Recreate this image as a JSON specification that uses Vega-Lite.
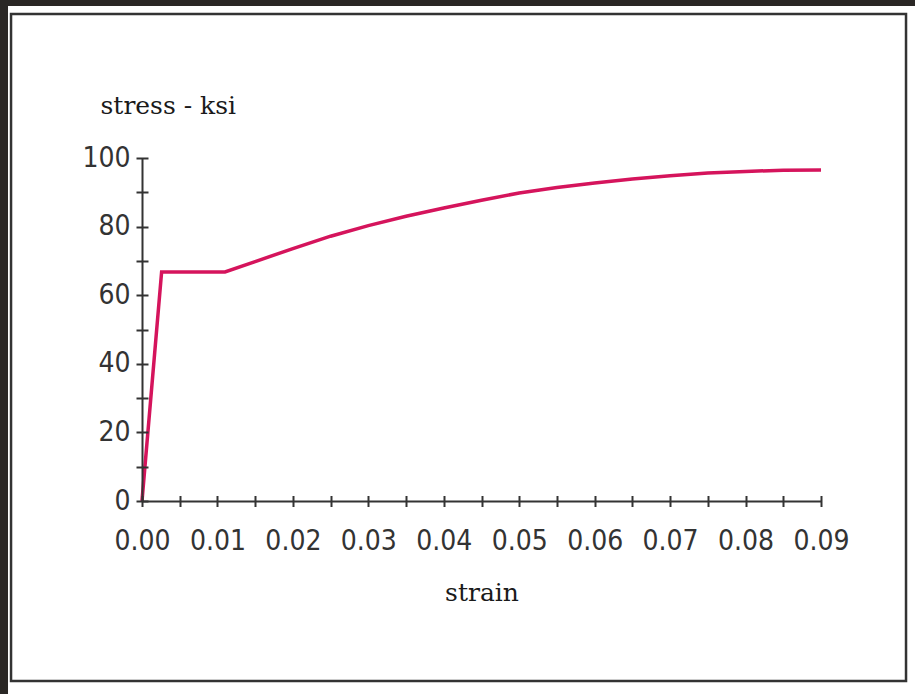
{
  "$schema": "https://vega.github.io/schema/vega-lite/v6.json",
  "autosize": {"type": "none"},
  "width": 679,
  "height": 343,
  "padding": {"left": 142, "top": 158, "right": 94, "bottom": 193},
  "background": "#2a2725",
  "config": {"view": {"stroke": null}},
  "resolve": {"axis": {"x": "independent", "y": "independent"}},
  "layer": [
    {
      "data": {"values": [{"x0": -0.01776, "x1": 0.11, "y0": -60, "y1": 144.3}]},
      "mark": {"type": "rect", "fill": "#ffffff"},
      "encoding": {
        "x": {"field": "x0", "type": "quantitative", "scale": {"domain": [0, 0.09], "nice": false, "zero": false}, "axis": null},
        "x2": {"field": "x1"},
        "y": {"field": "y0", "type": "quantitative", "scale": {"domain": [0, 100], "nice": false, "zero": false}, "axis": null},
        "y2": {"field": "y1"}
      }
    },
    {
      "data": {"values": [{"x0": -0.01736, "x1": 0.10127, "y0": -52.5, "y1": 142.0}]},
      "mark": {"type": "rect", "fill": null, "stroke": "#333333", "strokeWidth": 2.5},
      "encoding": {
        "x": {"field": "x0", "type": "quantitative", "scale": {"domain": [0, 0.09], "nice": false, "zero": false},
          "axis": {"orient": "bottom", "zindex": 2, "domain": false, "labels": false, "grid": false, "title": null,
            "ticks": true, "values": [0, 0.005, 0.01, 0.015, 0.02, 0.025, 0.03, 0.035, 0.04, 0.045, 0.05, 0.055, 0.06, 0.065, 0.07, 0.075, 0.08, 0.085, 0.09],
            "tickSize": 11, "offset": -5.5, "tickWidth": 2, "tickColor": "#333333"}},
        "x2": {"field": "x1"},
        "y": {"field": "y0", "type": "quantitative", "scale": {"domain": [0, 100], "nice": false, "zero": false},
          "axis": {"orient": "left", "zindex": 2, "domain": false, "labels": false, "grid": false, "title": null,
            "ticks": true, "values": [0, 10, 20, 30, 40, 50, 60, 70, 80, 90, 100],
            "tickSize": 12, "offset": -6, "tickWidth": 2, "tickColor": "#333333"}},
        "y2": {"field": "y1"}
      }
    },
    {
      "data": {"values": [
        {"strain": 0, "stress": 0},
        {"strain": 0.0026, "stress": 66.8},
        {"strain": 0.011, "stress": 66.8},
        {"strain": 0.015, "stress": 69.8},
        {"strain": 0.02, "stress": 73.6},
        {"strain": 0.025, "stress": 77.2},
        {"strain": 0.03, "stress": 80.3},
        {"strain": 0.035, "stress": 83.0},
        {"strain": 0.04, "stress": 85.4},
        {"strain": 0.045, "stress": 87.7},
        {"strain": 0.05, "stress": 89.8},
        {"strain": 0.055, "stress": 91.4},
        {"strain": 0.06, "stress": 92.7},
        {"strain": 0.065, "stress": 93.9},
        {"strain": 0.07, "stress": 94.8},
        {"strain": 0.075, "stress": 95.6},
        {"strain": 0.08, "stress": 96.1},
        {"strain": 0.085, "stress": 96.4},
        {"strain": 0.09, "stress": 96.5}
      ]},
      "mark": {"type": "line", "color": "#d5145c", "strokeWidth": 3.5},
      "encoding": {
        "x": {"field": "strain", "type": "quantitative", "scale": {"domain": [0, 0.09], "nice": false, "zero": false},
          "axis": {"orient": "bottom", "zindex": 2, "grid": false, "domain": true, "domainColor": "#333333", "domainWidth": 2,
            "ticks": false, "tickSize": 0, "values": [0, 0.01, 0.02, 0.03, 0.04, 0.05, 0.06, 0.07, 0.08, 0.09], "format": ".2f",
            "labelFlush": false, "labelOverlap": false, "labelBound": false,
            "labelFont": "Liberation Sans Narrow, DejaVu Sans Condensed, Liberation Sans", "labelFontSize": 28, "labelColor": "#333333",
            "labelPadding": 26, "labelBaseline": "top",
            "title": "strain", "titleFont": "DejaVu Serif", "titleFontSize": 25, "titleFontWeight": "normal", "titleColor": "#1a1a1a",
            "titleBaseline": "alphabetic", "titleY": 99}},
        "y": {"field": "stress", "type": "quantitative", "scale": {"domain": [0, 100], "nice": false, "zero": false},
          "axis": {"orient": "left", "zindex": 2, "grid": false, "domain": true, "domainColor": "#333333", "domainWidth": 2,
            "ticks": false, "tickSize": 0, "values": [0, 20, 40, 60, 80, 100],
            "labelFlush": false, "labelOverlap": false, "labelBound": false,
            "labelFont": "Liberation Sans Narrow, DejaVu Sans Condensed, Liberation Sans", "labelFontSize": 28, "labelColor": "#333333",
            "labelPadding": 12, "labelBaseline": "middle",
            "title": "stress - ksi", "titleFont": "DejaVu Serif", "titleFontSize": 25, "titleFontWeight": "normal", "titleColor": "#1a1a1a",
            "titleAngle": 0, "titleAlign": "left", "titleBaseline": "alphabetic", "titleX": -42, "titleY": -45}}
      }
    }
  ]
}
